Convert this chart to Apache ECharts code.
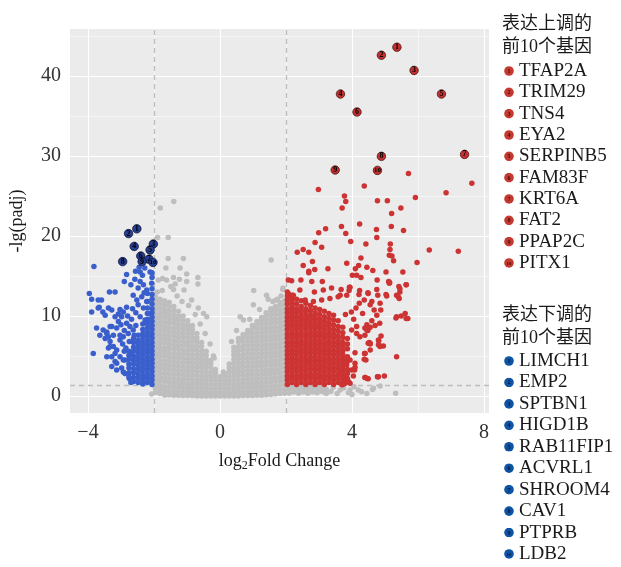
<!DOCTYPE html>
<html>
<head>
<meta charset="utf-8">
<script src="https://cdn.jsdelivr.net/npm/echarts@6/dist/echarts.min.js"></script>
<style>html,body{margin:0;padding:0;background:#fff}#volcano{width:621px;height:567px}</style>
</head>
<body>
<div id="volcano"></div>
<script>
// top 10 genes, up and down
var upGenes = ['TFAP2A', 'TRIM29', 'TNS4', 'EYA2', 'SERPINB5', 'FAM83F', 'KRT6A', 'FAT2', 'PPAP2C', 'PITX1'];
var upFC = [5.36, 4.89, 5.88, 3.65, 6.71, 4.15, 7.41, 4.89, 3.49, 4.77];
var upP = [43.6, 42.6, 40.7, 37.75, 37.75, 35.5, 30.2, 29.96, 28.25, 28.2];

var downGenes = ['LIMCH1', 'EMP2', 'SPTBN1', 'HIGD1B', 'RAB11FIP1', 'ACVRL1', 'SHROOM4', 'CAV1', 'PTPRB', 'LDB2'];
var downFC = [-2.52, -2.77, -2.02, -2.60, -2.12, -2.40, -2.15, -2.95, -2.36, -2.03];
var downP = [20.9, 20.3, 19.0, 18.7, 18.25, 17.5, 17.1, 16.8, 16.8, 16.7];

// scattered red points (read one by one)
var upScatter = [[2.98,25.8],[3.77,25.0],[3.81,24.3],[3.70,23.5],[4.37,26.25],[4.77,24.4],[5.07,24.4],[5.20,22.8],[5.48,23.5],[5.71,27.8],[5.92,24.8],[6.85,25.4],[7.63,26.6],
  [3.68,21.2],[4.23,21.5],[3.81,20.3],[2.99,20.4],[3.20,20.9],[4.74,20.8],[5.19,21.2],[5.56,20.7],[4.75,19.8],[3.96,19.3],[2.88,19.2],[3.08,18.6],[4.42,19.0],
  [5.16,19.0],[5.15,18.3],[5.13,17.6],[5.21,17.5],[5.26,16.9],[6.34,18.25],[7.22,18.1],[5.97,16.7],[2.34,17.96],[2.52,18.3],[2.69,17.96],[2.52,16.3],[2.80,16.8],
  [2.69,15.6],[2.69,15.4],[2.87,15.8],[3.27,15.9],[3.84,16.6],[4.27,17.25],[4.20,16.3],[4.10,15.9],[4.45,16.1],[4.63,15.7],[5.03,15.5],[5.54,15.5],[4.01,15.1],
  [4.14,15.1],[4.27,14.8],[2.07,14.5],[2.17,14.4],[2.45,14.5],[2.78,14.3],[3.10,14.3],[4.76,14.5],[5.11,14.3],[5.13,14.1],[5.64,13.9],[5.45,13.4],[5.45,13.0],
  [5.40,12.4],[5.43,12.2],[5.05,12.5],[4.75,13.3],[4.48,12.9],[5.33,9.75],[5.49,10.0],[5.64,9.7],[5.35,4.9],[4.98,2.5],[4.78,2.4],[4.88,7.5],[4.81,6.9],[4.95,6.25],
  [4.85,6.25],[4.52,6.7],[4.55,6.5],[4.38,5.3],[4.37,4.6],[4.40,2.3],[4.49,2.15],[4.09,4.1],[4.08,3.25],[4.23,13.2],[4.21,12.7],[3.94,13.6],[3.91,13.2],[4.78,12.6],
  [4.60,11.8],[4.67,10.75],[4.84,9.1],[4.70,8.8],[4.55,8.6],[4.48,8.2],[4.39,8.5],[4.39,7.6],[2.42,13.25],[2.86,13.0],[3.13,13.25],[3.38,13.5],[3.67,13.3],
  [3.92,13.6],[3.64,12.6],[3.84,12.6],[4.49,12.8],[5.03,12.7],[5.14,14.2],[5.42,13.7],[5.64,13.9],[5.35,12.6],[2.07,12.8],[2.22,12.6],[2.58,12.0],[2.83,11.8],
  [3.08,12.0],[3.33,12.2],[3.58,12.4],[4.22,11.6],[4.37,12.0],[4.55,11.4],[4.85,11.6],[4.87,10.75],[4.75,10.1],[4.60,9.4],[4.45,8.9],[4.32,10.3],[5.35,9.9],
  [5.69,9.7],[5.61,10.3],[4.49,6.6],[4.80,7.0],[4.85,6.2],[4.55,5.75],[4.39,5.3],[4.42,4.5],[3.94,4.5],[3.84,3.9],[3.99,3.25],[3.79,2.6],[3.69,2.8],[4.46,2.2],
  [4.77,2.4],[3.79,1.6],[3.89,1.8],[3.69,1.4],[4.14,7.8],[4.24,7.4],[4.14,8.7],[3.99,8.25],[4.45,8.25],[4.09,5.4],[4.39,5.3],[4.55,6.6],[4.80,6.4],[4.09,3.6],
  [4.04,2.5],[4.39,2.3],[4.80,2.4],[3.84,1.8],[3.94,1.6],[4.05,9.6],[3.98,10.5],[4.12,11.0],[3.80,10.2]];

// dense red block, one y-list per column
var upColX = [2.04, 2.18, 2.32, 2.46, 2.60, 2.74, 2.88, 3.02, 3.16, 3.30, 3.44, 3.58, 3.72, 3.86];
var upColY = [
  [1.45,2.0,2.5,3.05,3.55,4.1,4.6,5.15,5.65,6.2,6.7,7.25,7.75,8.3,8.8,9.35,9.85,10.4,10.9,11.5,12.0,12.5,13.0],
  [1.7,2.25,2.75,3.3,3.8,4.35,4.85,5.4,5.9,6.45,6.95,7.5,8.0,8.55,9.05,9.6,10.1,10.65,11.15,11.7,12.2,12.6],
  [1.45,2.0,2.5,3.05,3.55,4.1,4.6,5.15,5.65,6.2,6.7,7.25,7.75,8.3,8.8,9.35,9.85,10.4,10.9,11.5,12.1],
  [1.7,2.25,2.75,3.3,3.8,4.35,4.85,5.4,5.9,6.45,6.95,7.5,8.0,8.55,9.05,9.6,10.1,10.65,11.2,11.9],
  [1.45,2.0,2.5,3.05,3.55,4.1,4.6,5.15,5.65,6.2,6.7,7.25,7.75,8.3,8.8,9.35,9.85,10.4,10.9,11.6],
  [1.7,2.25,2.75,3.3,3.8,4.35,4.85,5.4,5.9,6.45,6.95,7.5,8.0,8.55,9.05,9.6,10.1,10.7,11.3],
  [1.45,2.0,2.5,3.05,3.55,4.1,4.6,5.15,5.65,6.2,6.7,7.25,7.75,8.3,8.8,9.35,9.85,10.4,11.0],
  [1.7,2.25,2.75,3.3,3.8,4.35,4.85,5.4,5.9,6.45,6.95,7.5,8.0,8.55,9.05,9.6,10.2,10.8],
  [1.45,2.0,2.5,3.05,3.55,4.1,4.6,5.15,5.65,6.2,6.7,7.25,7.75,8.3,8.8,9.35,9.9,10.6],
  [1.7,2.25,2.75,3.3,3.8,4.35,4.85,5.4,5.9,6.45,6.95,7.5,8.0,8.55,9.1,9.7,10.3],
  [1.45,2.0,2.5,3.05,3.55,4.1,4.6,5.15,5.65,6.2,6.7,7.25,7.75,8.3,8.9,9.5,10.1],
  [1.7,2.25,2.75,3.3,3.8,4.35,4.85,5.4,5.9,6.45,6.95,7.5,8.1,8.7,9.4],
  [1.45,2.0,2.5,3.05,3.55,4.1,4.6,5.15,5.65,6.2,6.7,7.3,7.9,8.6],
  [2.2,2.8,3.3,4.4,4.9,5.9,6.5,7.2]
];

// scattered blue points
var downScatter = [[-3.82,16.2],[-2.83,15.2],[-2.42,15.5],[-2.35,15.1],[-2.12,15.5],[-2.90,14.3],[-2.42,14.3],[-2.32,13.9],[-2.48,13.5],[-2.22,13.25],[-2.07,14.1],
  [-3.96,12.8],[-3.35,13.0],[-3.18,13.0],[-3.89,12.1],[-3.69,12.0],[-3.59,12.0],[-2.63,12.6],[-2.52,12.0],[-2.37,12.4],[-2.22,11.8],[-2.48,11.4],[-3.69,11.0],
  [-3.38,11.0],[-3.89,10.5],[-3.03,10.8],[-2.93,10.5],[-2.83,11.1],[-2.98,9.9],[-3.08,10.25],[-2.32,11.0],[-2.17,10.3],[-2.42,9.9],[-2.27,9.5],[-3.74,8.5],
  [-3.54,8.25],[-3.64,7.6],[-3.43,8.0],[-3.28,8.7],[-3.13,8.5],[-2.83,9.1],[-2.73,8.7],[-2.63,8.25],[-2.78,7.8],[-2.93,7.4],[-3.03,7.6],[-3.48,7.2],[-3.33,6.8],
  [-3.23,6.2],[-3.38,6.0],[-3.13,5.75],[-3.84,5.3],[-3.03,4.9],[-3.18,4.3],[-2.88,4.5],[-2.73,5.3],[-3.28,3.7],[-3.13,3.25],[-2.93,3.0],[-3.66,11.1],[-3.55,10.5],
  [-3.48,10.1],[-3.28,10.75],[-3.18,9.9],[-3.08,9.3],[-3.33,8.7],[-3.43,7.8],[-3.23,7.6],[-3.03,7.0],[-3.38,7.4],[-3.33,6.2],[-3.18,5.3],[-2.93,4.5],[-3.13,4.1],
  [-2.98,3.5],[-2.88,2.8],[-3.28,4.9],[-3.43,4.9],[-2.95,6.5],[-2.85,6.0],[-2.75,6.8],[-2.90,5.6],[-2.60,7.6],[-2.55,8.8],[-2.68,9.6],[-2.55,10.4],[-2.65,10.9],
  [-2.90,8.2],[-3.00,8.9],[-2.80,10.0],[-2.58,14.6],[-2.20,12.8],[-2.30,12.9],[-2.70,13.9],[-2.45,16.1],[-2.28,16.0],[-2.56,15.6],[-2.75,2.2],[-2.70,1.7]];

// dense blue block
var downColX = [-2.06, -2.20, -2.34, -2.48, -2.62, -2.76];
var downColY = [
  [1.45,2.0,2.5,3.05,3.55,4.1,4.6,5.15,5.65,6.2,6.7,7.25,7.75,8.3,8.8,9.35,9.85,10.4,10.9,11.5,12.1,12.7,13.4,14.8,15.4],
  [1.7,2.25,2.75,3.3,3.8,4.35,4.85,5.4,5.9,6.45,6.95,7.5,8.0,8.55,9.1,9.6,10.3,11.0,11.8],
  [1.5,2.0,2.5,3.05,3.55,4.1,4.6,5.15,5.65,6.2,6.7,7.25,7.75,8.3,9.0],
  [1.7,2.25,2.75,3.3,3.8,4.35,4.85,5.4,5.9,6.45,6.95,7.6],
  [1.8,2.3,2.9,3.4,4.0,4.5,5.0,5.6,6.1,6.7,7.2],
  [2.4,2.9,3.5,4.0,4.6,5.1,5.6]
];

// grey (not significant) points, scattered
var nsScatter = [[-1.40,24.3],[-1.81,23.5],[-1.89,19.8],[-1.57,19.8],[-1.57,17.2],[-1.11,17.2],[-1.64,16.0],[-1.21,16.0],[-1.01,15.25],[-0.67,14.8],[-0.67,14.0],
  [-1.74,14.7],[-1.62,14.5],[-1.87,14.5],[-1.23,14.6],[-1.36,14.0],[-1.41,13.3],[-1.49,13.7],[-1.41,14.8],[-1.01,14.3],[-1.09,13.25],[-0.86,12.0],[-0.66,11.0],
  [-0.50,10.3],[-0.40,9.9],[-1.75,13.2],[-1.90,13.0],[-1.30,12.5],[-1.15,11.8],[-0.95,11.3],[-0.75,10.2],[-0.60,9.0],[-0.45,7.8],[-0.30,6.5],[-0.20,5.0],[-0.18,4.75],
  [1.55,17.0],[1.02,13.2],[1.01,11.4],[1.41,12.6],[1.46,12.1],[1.70,12.0],[1.90,13.3],[0.61,9.9],[0.71,9.5],[1.91,13.5],[1.74,12.1],[1.20,10.8],[0.90,9.6],
  [0.50,8.2],[0.35,6.8],[1.60,11.8],[1.85,12.5],[0.10,3.0],
  [-2.07,0.25],[-1.67,0.12],[-1.36,0.34],[3.64,0.75],[3.89,0.4],[4.19,0.75],[4.65,0.96],[4.85,1.25],[5.32,0.34],[4.06,1.17],[4.29,0.54],[4.62,0.8],[3.94,0.75],
  [3.43,1.08],[3.13,0.54],[2.93,1.17],[3.55,0.3],[3.75,1.0],[4.45,0.3],[4.00,0.2]];

// grey dense V, one y-list per column
var nsColX = [-1.96,-1.82,-1.68,-1.54,-1.40,-1.26,-1.12,-0.98,-0.84,-0.70,-0.56,-0.42,-0.28,-0.14,0.00,0.14,0.28,0.42,0.56,0.70,0.84,0.98,1.12,1.26,1.40,1.54,1.68,1.82,1.96,
  2.10,2.24,2.38,2.52,2.66,2.80,2.94,3.08,3.22,3.36];
var nsColY = [
  [0.45,1.0,1.5,2.1,2.6,3.1,3.7,4.2,4.8,5.3,5.9,6.4,6.9,7.5,8.0,8.6,9.1,9.7,10.2,10.8,11.3,11.9,12.4],
  [0.3,0.8,1.3,1.85,2.35,2.9,3.4,3.95,4.5,5.05,5.6,6.1,6.65,7.2,7.75,8.3,8.85,9.4,9.9,10.45,11.0,11.6,12.1],
  [0.2,0.7,1.2,1.8,2.3,2.8,3.4,3.9,4.4,5.0,5.5,6.0,6.6,7.1,7.6,8.2,8.7,9.2,9.8,10.3,10.8,11.4,11.9],
  [0.15,0.65,1.15,1.7,2.2,2.75,3.25,3.8,4.3,4.85,5.35,5.9,6.4,6.95,7.45,8.0,8.5,9.05,9.55,10.1,10.6,11.2,11.7],
  [0.1,0.6,1.1,1.65,2.2,2.7,3.25,3.75,4.3,4.8,5.35,5.9,6.4,6.9,7.5,8.0,8.5,9.1,9.6,10.1,10.7,11.2],
  [0.1,0.55,1.05,1.6,2.1,2.65,3.15,3.7,4.2,4.75,5.25,5.8,6.3,6.85,7.35,7.9,8.45,8.95,9.5,10.0,10.6],
  [0.05,0.55,1.05,1.6,2.1,2.6,3.15,3.65,4.2,4.7,5.25,5.75,6.3,6.8,7.35,7.85,8.4,8.9,9.45,10.0],
  [0.05,0.5,1.0,1.5,2.05,2.55,3.1,3.6,4.15,4.65,5.2,5.7,6.25,6.75,7.3,7.8,8.35,8.85,9.4],
  [0.05,0.5,1.0,1.55,2.05,2.6,3.1,3.65,4.15,4.7,5.2,5.75,6.25,6.8,7.3,7.85,8.35,8.8],
  [0.0,0.5,1.0,1.5,2.0,2.55,3.05,3.6,4.1,4.65,5.15,5.7,6.2,6.75,7.25,7.8],
  [0.0,0.45,0.95,1.5,2.0,2.5,3.05,3.55,4.1,4.6,5.15,5.65,6.2,6.7],
  [0.0,0.45,0.95,1.45,1.95,2.5,3.0,3.55,4.05,4.6,5.1,5.6],
  [0.0,0.45,0.95,1.45,2.0,2.5,3.0,3.55,4.05,4.45],
  [0.0,0.45,0.95,1.45,1.95,2.45,2.95,3.3],
  [0.0,0.45,0.95,1.45,1.95,2.45],
  [0.0,0.45,0.95,1.45,1.95,2.4,2.8],
  [0.0,0.45,0.95,1.45,1.95,2.45,3.0,3.5,4.0],
  [0.0,0.45,0.95,1.45,1.95,2.5,3.0,3.5,4.05,4.55,5.1,5.6,6.1],
  [0.0,0.5,1.0,1.5,2.0,2.55,3.05,3.6,4.1,4.65,5.15,5.7,6.2,6.75,7.2],
  [0.05,0.5,1.0,1.55,2.05,2.6,3.1,3.65,4.15,4.7,5.2,5.75,6.25,6.8,7.3,7.7],
  [0.05,0.5,1.05,1.55,2.1,2.6,3.15,3.65,4.2,4.7,5.25,5.75,6.3,6.8,7.35,7.85,8.2],
  [0.05,0.55,1.05,1.6,2.1,2.65,3.15,3.7,4.2,4.75,5.25,5.8,6.3,6.85,7.35,7.9,8.4,8.8],
  [0.1,0.6,1.1,1.6,2.15,2.65,3.2,3.7,4.25,4.75,5.3,5.8,6.35,6.85,7.4,7.9,8.45,8.95,9.3],
  [0.1,0.6,1.1,1.65,2.15,2.7,3.2,3.75,4.25,4.8,5.3,5.85,6.35,6.9,7.4,7.95,8.45,9.0,9.5,9.8],
  [0.15,0.65,1.15,1.7,2.2,2.75,3.25,3.8,4.3,4.85,5.35,5.9,6.4,6.95,7.45,8.0,8.5,9.05,9.55,10.1,10.4],
  [0.2,0.7,1.2,1.75,2.25,2.8,3.3,3.85,4.35,4.9,5.4,5.95,6.45,7.0,7.5,8.05,8.55,9.1,9.6,10.15,10.65,10.9],
  [0.25,0.75,1.25,1.8,2.3,2.85,3.35,3.9,4.4,4.95,5.45,6.0,6.5,7.05,7.55,8.1,8.6,9.15,9.65,10.2,10.7,11.2],
  [0.3,0.8,1.3,1.85,2.35,2.9,3.4,3.95,4.45,5.0,5.5,6.05,6.55,7.1,7.6,8.15,8.65,9.2,9.7,10.25,10.75,11.3,11.7],
  [0.35,0.85,1.4,1.9,2.45,2.95,3.5,4.0,4.55,5.05,5.6,6.1,6.65,7.15,7.7,8.2,8.75,9.25,9.8,10.3,10.85,11.35,11.9],
  [0.35,0.85,1.2],[0.5,1.05],[0.35,0.85,1.2],[0.5,1.05],[0.35,0.85,1.2],[0.5,1.05],[0.4,0.9],[0.6,1.1],[0.3,0.85],[0.55]
];

// axes
var xTicks = [-4, 0, 4, 8];
var xMinor = [-2, 2, 6];
var yTicks = [0, 10, 20, 30, 40];
var yMinor = [5, 15, 25, 35, 45];
var fcCut = [-2, 2];
var padjCut = [1.301];

var SERIF = "'Liberation Serif', 'Noto Sans CJK SC', serif";
var UP_COLOR = '#CD3333', DOWN_COLOR = '#3A5FCD', NS_COLOR = '#BEBEBE';

function fromColumns(xs, ys) {
  var out = [];
  for (var i = 0; i < xs.length; i++) {
    for (var j = 0; j < ys[i].length; j++) out.push([xs[i], ys[i][j]]);
  }
  return out;
}

function numIcon(n, fill, ink) {
  var svg = '<svg xmlns="http://www.w3.org/2000/svg" width="20" height="20">' +
    '<circle cx="10" cy="10" r="9.6" fill="' + fill + '"/>' +
    '<text x="10" y="14" font-size="' + (n > 9 ? 10 : 12) + '" font-weight="bold" font-family="Liberation Serif" text-anchor="middle" fill="' + ink + '">' + n + '</text></svg>';
  return 'image://data:image/svg+xml;utf8,' + encodeURIComponent(svg);
}

var chart = echarts.init(document.getElementById('volcano'));

var series = [
  { // grid lines
    type: 'scatter', data: [], silent: true, z: 1,
    markLine: {
      silent: true, symbol: 'none', animation: false, z: 1,
      label: { show: false },
      data: [].concat(
        xTicks.map(function (v) { return { xAxis: v, lineStyle: { color: '#fff', width: 1.1, type: 'solid' } }; }),
        xMinor.map(function (v) { return { xAxis: v, lineStyle: { color: '#fff', width: 0.55, type: 'solid' } }; }),
        yTicks.map(function (v) { return { yAxis: v, lineStyle: { color: '#fff', width: 1.1, type: 'solid' } }; }),
        yMinor.map(function (v) { return { yAxis: v, lineStyle: { color: '#fff', width: 0.55, type: 'solid' } }; })
      )
    }
  },
  { // thresholds
    type: 'scatter', data: [], silent: true, z: 2,
    markLine: {
      silent: true, symbol: 'none', animation: false, z: 2,
      label: { show: false },
      lineStyle: { color: '#BDBDBD', width: 1.3, type: [5, 4] },
      data: [].concat(
        fcCut.map(function (v) { return { xAxis: v }; }),
        padjCut.map(function (v) { return { yAxis: v }; })
      )
    }
  },
  { name: 'ns', type: 'scatter', z: 10, symbolSize: 5.5, itemStyle: { color: NS_COLOR, opacity: 1 },
    data: fromColumns(nsColX, nsColY).concat(nsScatter) },
  { name: 'down', type: 'scatter', z: 11, symbolSize: 5.5, itemStyle: { color: DOWN_COLOR, opacity: 1 },
    data: fromColumns(downColX, downColY).concat(downScatter) },
  { name: 'up', type: 'scatter', z: 11, symbolSize: 5.5, itemStyle: { color: UP_COLOR, opacity: 1 },
    data: fromColumns(upColX, upColY).concat(upScatter) }
];

upGenes.forEach(function (g, i) {
  series.push({
    name: g, type: 'scatter', z: 12, symbolSize: 8.5,
    itemStyle: { color: '#C53030', borderColor: '#3a0d0d', borderWidth: 0.7, opacity: 1 },
    label: { show: true, position: 'inside', formatter: String(i + 1), fontSize: i > 8 ? 7 : 8, fontWeight: 'bold', color: '#000', fontFamily: SERIF },
    labelLayout: { hideOverlap: false },
    data: [[upFC[i], upP[i]]]
  });
});
downGenes.forEach(function (g, i) {
  series.push({
    name: g, type: 'scatter', z: 12, symbolSize: 8.5,
    itemStyle: { color: '#253f92', borderColor: '#0a0a2a', borderWidth: 0.7, opacity: 1 },
    label: { show: true, position: 'inside', formatter: String(i + 1), fontSize: i > 8 ? 7 : 8, fontWeight: 'bold', color: '#000', fontFamily: SERIF },
    labelLayout: { hideOverlap: false },
    data: [[downFC[i], downP[i]]]
  });
});

var legendText = { fontSize: 19, fontFamily: SERIF, color: '#1a1a1a', lineHeight: 20 };

chart.setOption({
  animation: false,
  backgroundColor: '#fff',
  title: [
    { text: '表达上调的\n前10个基因', left: 497, top: 8,
      textStyle: { fontSize: 18, fontWeight: 'normal', fontFamily: SERIF, color: '#1a1a1a', lineHeight: 23 } },
    { text: '表达下调的\n前10个基因', left: 497, top: 299,
      textStyle: { fontSize: 18, fontWeight: 'normal', fontFamily: SERIF, color: '#1a1a1a', lineHeight: 23 } }
  ],
  legend: [
    { orient: 'vertical', left: 504, top: 61, itemWidth: 10, itemHeight: 10, itemGap: 1.33, selectedMode: false,
      padding: 0, textStyle: legendText,
      data: upGenes.map(function (g, i) { return { name: g, icon: numIcon(i + 1, '#C53A30', '#4a0c0c') }; }) },
    { orient: 'vertical', left: 504, top: 351, itemWidth: 10, itemHeight: 10, itemGap: 1.44, selectedMode: false,
      padding: 0, textStyle: legendText,
      data: downGenes.map(function (g, i) { return { name: g, icon: numIcon(i + 1, '#0D54A5', '#04183a') }; }) }
  ],
  grid: { left: 70, top: 29, width: 419, height: 384, show: true, backgroundColor: '#EBEBEB', borderWidth: 0 },
  xAxis: {
    type: 'value', min: -4.545, max: 8.15,
    name: 'log{sub|2}Fold Change', nameLocation: 'middle', nameGap: 38,
    nameTextStyle: { fontSize: 18, fontFamily: SERIF, color: '#1a1a1a',
      rich: { sub: { fontSize: 12, fontFamily: SERIF, color: '#1a1a1a', padding: [9, 0, 0, 0] } } },
    axisLine: { show: false },
    splitLine: { show: false },
    axisTick: { show: true, customValues: xTicks, length: 4, lineStyle: { color: '#333', width: 1 } },
    axisLabel: { customValues: xTicks, fontSize: 20, fontFamily: SERIF, color: '#333', margin: 10,
      formatter: function (v) { return String(v).replace('-', '\u2212'); } }
  },
  yAxis: {
    type: 'value', min: -2.125, max: 45.875,
    name: '-lg(padj)', nameLocation: 'middle', nameGap: 44,
    nameTextStyle: { fontSize: 18, fontFamily: SERIF, color: '#1a1a1a' },
    axisLine: { show: false },
    splitLine: { show: false },
    axisTick: { show: true, customValues: yTicks, length: 4, lineStyle: { color: '#333', width: 1 } },
    axisLabel: { customValues: yTicks, fontSize: 20, fontFamily: SERIF, color: '#333', margin: 9 }
  },
  series: series
});
</script>
</body>
</html>
